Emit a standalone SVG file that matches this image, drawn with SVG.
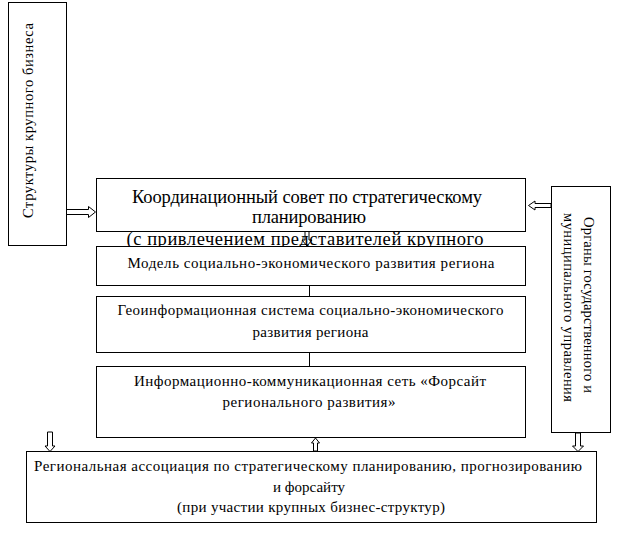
<svg xmlns="http://www.w3.org/2000/svg" width="625" height="542" viewBox="0 0 625 542">
<style>
.box{fill:#fff;stroke:#000;stroke-width:1}
.t{font-family:"Liberation Serif",serif;fill:#000;text-anchor:middle}
.s{font-size:15px}
.b{font-size:18.5px}
.r{font-size:14.5px}
.arr{fill:#fff;stroke:#000;stroke-width:1}
.ln{stroke:#000;stroke-width:1;fill:none}
</style>
<rect width="625" height="542" fill="#fff"/>
<g id="connectors">
<path class="arr" d="M66,209.5 H88.5 V206.5 L95.5,212 L88.5,217.5 V214.5 H66 Z"/>
<path class="arr" d="M551,203.5 H535 V201 L528.5,205.5 L535,210 V207.5 H551 Z"/>
<path class="arr" d="M305,231 V240 H302 L307,246 L312,240 H309 V231 Z"/>
<line class="ln" x1="309.5" y1="285" x2="309.5" y2="296"/>
<line class="ln" x1="309.5" y1="353" x2="309.5" y2="366"/>
<path class="arr" d="M47.5,432 V446 H45 L50,451.5 L55,446 H52.5 V432 Z"/>
<path class="arr" d="M575.5,433 V446 H572.5 L578,451.5 L583.5,446 H580.5 V433 Z"/>
<path class="arr" d="M313.5,451 V443 H311.5 L315.5,438 L319.5,443 H317.5 V451 Z"/>
</g>
<g id="large-business">
<rect class="box" x="8.5" y="2.5" width="58" height="243"/>
<text class="t r" transform="translate(33,120.5) rotate(-90)" textLength="195" lengthAdjust="spacing">Структуры крупного бизнеса</text>
</g>
<g id="coordination-council">
<rect class="box" x="96.5" y="178.5" width="429" height="53"/>
<text class="t b" x="307" y="203" textLength="350" lengthAdjust="spacing">Координационный совет по стратегическому</text>
<text class="t b" x="309" y="223" textLength="114" lengthAdjust="spacing">планированию</text>
<text class="t b" x="305" y="245" textLength="357" lengthAdjust="spacing">(с привлечением представителей крупного</text>
</g>
<g id="government">
<rect class="box" x="551.5" y="186.5" width="59" height="246"/>
<text class="t r" transform="translate(583.5,305) rotate(90)" textLength="176" lengthAdjust="spacing">Органы государственного и</text>
<text class="t r" transform="translate(563.5,307.5) rotate(90)" textLength="189" lengthAdjust="spacing">муниципального управления</text>
</g>
<g id="model">
<rect class="box" x="96.5" y="246.5" width="429" height="39"/>
<text class="t s" x="311" y="268" textLength="367" lengthAdjust="spacing">Модель социально-экономического развития региона</text>
</g>
<g id="gis">
<rect class="box" x="96.5" y="296.5" width="429" height="56"/>
<text class="t s" x="310.5" y="315" textLength="386" lengthAdjust="spacing">Геоинформационная система социально-экономического</text>
<text class="t s" x="310.5" y="337" textLength="116" lengthAdjust="spacing">развития региона</text>
</g>
<g id="foresight-network">
<rect class="box" x="96.5" y="366.5" width="429" height="71"/>
<text class="t s" x="310" y="386" textLength="352" lengthAdjust="spacing">Информационно-коммуникационная сеть «Форсайт</text>
<text class="t s" x="309" y="407" textLength="173" lengthAdjust="spacing">регионального развития»</text>
</g>
<g id="regional-association">
<rect class="box" x="26.5" y="451.5" width="570" height="71"/>
<text class="t s" x="308" y="471" textLength="548" lengthAdjust="spacing">Региональная ассоциация по стратегическому планированию, прогнозированию</text>
<text class="t s" x="309" y="492" textLength="72" lengthAdjust="spacing">и форсайту</text>
<text class="t s" x="311" y="512" textLength="268" lengthAdjust="spacing">(при участии крупных бизнес-структур)</text>
</g>
</svg>
